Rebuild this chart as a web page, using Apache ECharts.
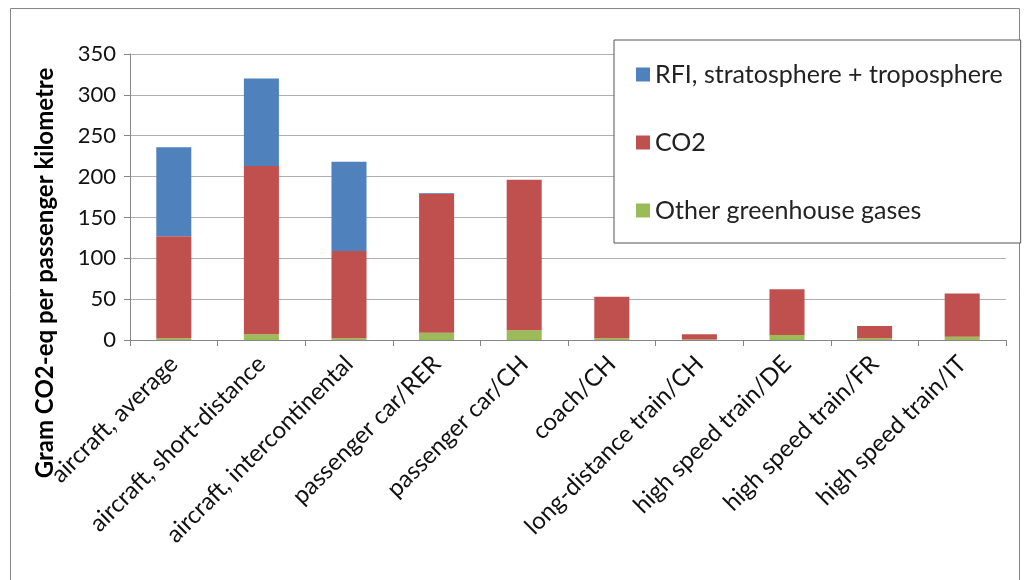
<!DOCTYPE html>
<html>
<head>
<meta charset="utf-8">
<script src="https://cdn.jsdelivr.net/npm/echarts@6/dist/echarts.min.js"></script>
<style>
  html, body { margin: 0; padding: 0; background: #fff; }
  #main { width: 1024px; height: 580px; }
</style>
</head>
<body>
<div id="main"></div>
<script>
var myChart = echarts.init(document.getElementById('main'));

var categories = ['aircraft, average', 'aircraft, short-distance', 'aircraft, intercontinental',
    'passenger car/RER', 'passenger car/CH', 'coach/CH', 'long-distance train/CH',
    'high speed train/DE', 'high speed train/FR', 'high speed train/IT'];
var otherGases = [2, 7, 2, 9, 12, 2, 0.5, 6, 2, 4];
var co2 = [125, 206, 107, 170, 184, 51, 6.5, 56, 15, 53];
var rfi = [109, 107, 109, 1, 0, 0, 0, 0, 0, 0];
var yTicks = [0, 350, 50];

var fontName = 'Lato';
var colorList = ['#4F81BD', '#C0504D', '#9BBB59'];

option = {
    backgroundColor: '#fff',
    animation: false,
    textStyle: { fontFamily: fontName },
    graphic: [
        {
            type: 'rect',
            shape: { x: 10.5, y: 8.5, width: 1009, height: 600 },
            style: { fill: 'none', stroke: '#868686', lineWidth: 1 }
        },
        {
            type: 'text',
            x: 45, y: 273,
            rotation: Math.PI / 2,
            style: {
                text: 'Gram CO2-eq per passenger kilometre',
                font: 'bold 24px ' + fontName,
                fill: '#000',
                align: 'center',
                verticalAlign: 'middle'
            }
        }
    ],
    legend: {
        orient: 'vertical',
        left: 614,
        top: 40,
        itemGap: 43,
        itemWidth: 14,
        itemHeight: 14,
        icon: 'rect',
        padding: [22, 18, 20, 22],
        borderColor: '#555',
        borderWidth: 1,
        backgroundColor: '#fff',
        textStyle: { fontSize: 25, color: '#222', fontFamily: fontName },
        data: ['RFI, stratosphere + troposphere', 'CO2', 'Other greenhouse gases']
    },
    grid: {
        left: 130,
        right: 18,
        top: 54,
        bottom: 240,
        containLabel: false
    },
    xAxis: {
        type: 'category',
        data: categories,
        axisLine: { lineStyle: { color: '#868686' } },
        axisTick: { show: true, length: 6, lineStyle: { color: '#868686' } },
        axisLabel: {
            rotate: 45,
            interval: 0,
            fontSize: 24,
            color: '#111',
            margin: 20,
            fontFamily: fontName
        }
    },
    yAxis: {
        type: 'value',
        min: yTicks[0],
        max: yTicks[1],
        interval: yTicks[2],
        axisLine: { show: true, lineStyle: { color: '#868686' } },
        axisTick: { show: true, length: 6, lineStyle: { color: '#868686' } },
        splitLine: { lineStyle: { color: '#b0b0b0' } },
        axisLabel: { fontSize: 22, color: '#111', margin: 14, fontFamily: fontName }
    },
    series: [
        {
            name: 'Other greenhouse gases',
            type: 'bar',
            stack: 'total',
            barWidth: '40%',
            itemStyle: { color: colorList[2] },
            data: otherGases
        },
        {
            name: 'CO2',
            type: 'bar',
            stack: 'total',
            itemStyle: { color: colorList[1] },
            data: co2
        },
        {
            name: 'RFI, stratosphere + troposphere',
            type: 'bar',
            stack: 'total',
            itemStyle: { color: colorList[0] },
            data: rfi
        }
    ]
};

myChart.setOption(option);
</script>
</body>
</html>
